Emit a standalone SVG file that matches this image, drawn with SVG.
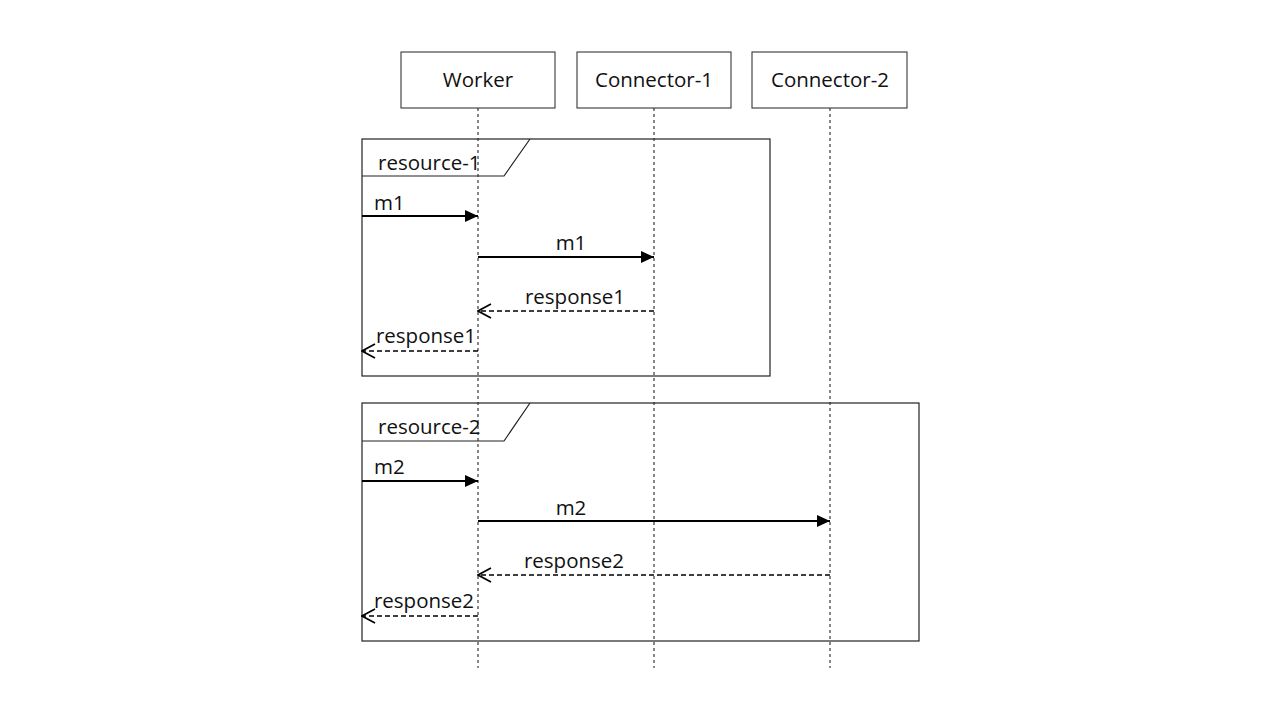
<svg xmlns="http://www.w3.org/2000/svg" width="1265" height="712" viewBox="0 0 1265 712">
<style>
text{font-family:"Open Sans","Noto Sans",sans-serif;font-size:20.5px;fill:#111}
.box{fill:#fff;stroke:#222;stroke-width:1}
.life{stroke:#111;stroke-width:1;stroke-dasharray:3,3;fill:none}
.frame{fill:none;stroke:#222;stroke-width:1.2}
.msg{stroke:#000;stroke-width:2;fill:none}
.ret{stroke:#000;stroke-width:1.7;stroke-dasharray:5,3;fill:none}
.mid{text-anchor:middle}
</style>
<defs>
<marker id="fill" viewBox="0 0 13 12" refX="13" refY="6" markerWidth="13" markerHeight="12" markerUnits="userSpaceOnUse" orient="auto"><path d="M0,0 L13,6 L0,12 Z" fill="#000"/></marker>
<marker id="open" viewBox="0 0 15 16" refX="14" refY="8" markerWidth="15" markerHeight="16" markerUnits="userSpaceOnUse" orient="auto"><path d="M1,1 L14,8 L1,15" fill="none" stroke="#000" stroke-width="1.7"/></marker>
</defs>
<rect width="1265" height="712" fill="#fff"/>
<g id="lifelines">
<line class="life" x1="478" y1="108" x2="478" y2="668"/>
<line class="life" x1="654" y1="108" x2="654" y2="668"/>
<line class="life" x1="830" y1="108" x2="830" y2="668"/>
</g>
<g id="worker"><rect class="box" x="401" y="52" width="154" height="56"/><text class="mid" x="478" y="87">Worker</text></g>
<g id="connector-1"><rect class="box" x="577" y="52" width="154" height="56"/><text class="mid" x="654" y="87">Connector-1</text></g>
<g id="connector-2"><rect class="box" x="752" y="52" width="155" height="56"/><text class="mid" x="830" y="87">Connector-2</text></g>
<g id="frame-resource-1">
<rect class="frame" x="362" y="139" width="408" height="237"/>
<path class="frame" d="M362,176 L504,176 L530,139"/>
<text x="378" y="170">resource-1</text>
</g>
<g id="frame-resource-2">
<rect class="frame" x="362" y="403" width="557" height="238"/>
<path class="frame" d="M362,441 L504,441 L530,403"/>
<text x="378" y="434">resource-2</text>
</g>
<g id="connectors">
<line class="msg" x1="362" y1="216" x2="478" y2="216" marker-end="url(#fill)"/>
<text x="374" y="210">m1</text>
<line class="msg" x1="478" y1="257" x2="654" y2="257" marker-end="url(#fill)"/>
<text class="mid" x="571" y="250">m1</text>
<line class="ret" x1="654" y1="311" x2="478" y2="311" marker-end="url(#open)"/>
<text class="mid" x="575" y="304">response1</text>
<line class="ret" x1="478" y1="351" x2="362" y2="351" marker-end="url(#open)"/>
<text class="mid" x="426" y="343">response1</text>
<line class="msg" x1="362" y1="481" x2="478" y2="481" marker-end="url(#fill)"/>
<text x="374" y="474">m2</text>
<line class="msg" x1="478" y1="521" x2="830" y2="521" marker-end="url(#fill)"/>
<text class="mid" x="571" y="515">m2</text>
<line class="ret" x1="830" y1="575" x2="478" y2="575" marker-end="url(#open)"/>
<text class="mid" x="574" y="568">response2</text>
<line class="ret" x1="478" y1="616" x2="362" y2="616" marker-end="url(#open)"/>
<text class="mid" x="424" y="608">response2</text>
</g>
</svg>
